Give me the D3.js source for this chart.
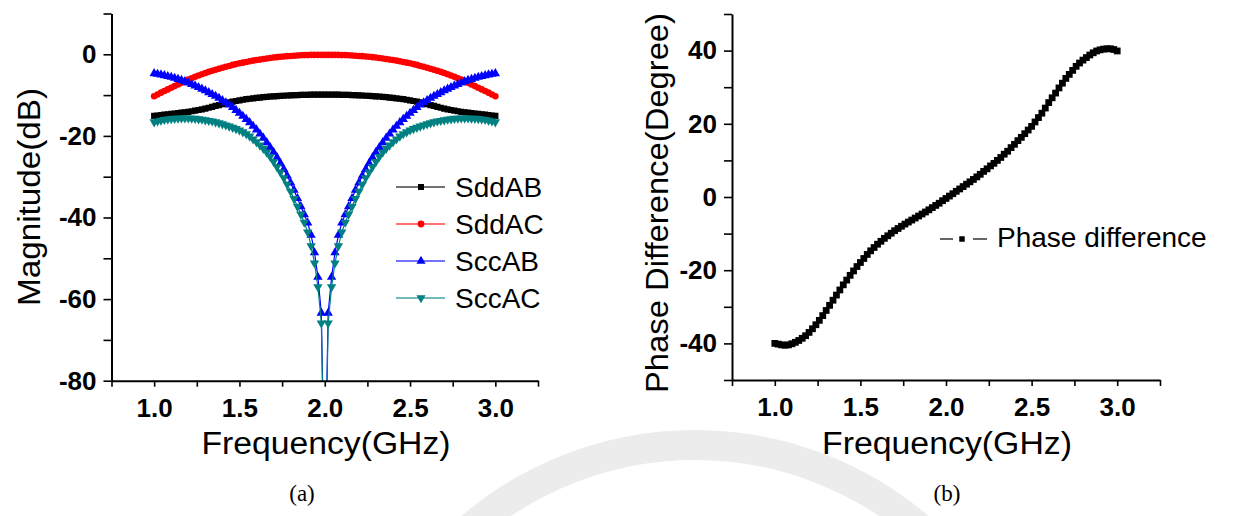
<!DOCTYPE html>
<html>
<head>
<meta charset="utf-8">
<script src="https://cdn.jsdelivr.net/npm/d3@7"></script>
<style>
  body { margin: 0; background: #fff; }
  svg { display: block; font-family: "Liberation Sans", Arial, sans-serif; }
</style>
</head>
<body>
<svg id="chart" width="1239" height="516"></svg>
<script>
// frequency sweep (GHz)
var freq = [1.00,1.02,1.04,1.06,1.08,1.10,1.12,1.14,1.16,1.18,1.20,1.22,1.24,1.26,1.28,1.30,1.32,1.34,1.36,1.38,
  1.40,1.42,1.44,1.46,1.48,1.50,1.52,1.54,1.56,1.58,1.60,1.62,1.64,1.66,1.68,1.70,1.72,1.74,1.76,1.78,
  1.80,1.82,1.84,1.86,1.88,1.90,1.92,1.94,1.96,1.98,2.00,2.02,2.04,2.06,2.08,2.10,2.12,2.14,2.16,2.18,
  2.20,2.22,2.24,2.26,2.28,2.30,2.32,2.34,2.36,2.38,2.40,2.42,2.44,2.46,2.48,2.50,2.52,2.54,2.56,2.58,
  2.60,2.62,2.64,2.66,2.68,2.70,2.72,2.74,2.76,2.78,2.80,2.82,2.84,2.86,2.88,2.90,2.92,2.94,2.96,2.98,3.00];

var sddAB = [-15.1,-15.0,-14.9,-14.8,-14.7,-14.6,-14.5,-14.4,-14.3,-14.2,-14.1,-13.95,-13.8,-13.65,-13.5,-13.3,-13.1,-12.9,-12.65,-12.45,
  -12.2,-12.0,-11.8,-11.6,-11.45,-11.3,-11.15,-11.0,-10.9,-10.8,-10.7,-10.6,-10.5,-10.45,-10.35,-10.3,-10.25,-10.2,-10.15,-10.1,
  -10.05,-10.0,-10.0,-9.95,-9.95,-9.95,-9.9,-9.9,-9.9,-9.9,-9.9,-9.9,-9.9,-9.9,-9.9,-9.95,-9.95,-9.95,-10.0,-10.0,
  -10.05,-10.1,-10.15,-10.2,-10.25,-10.3,-10.35,-10.45,-10.5,-10.6,-10.7,-10.8,-10.9,-11.0,-11.15,-11.3,-11.45,-11.6,-11.8,-12.0,
  -12.2,-12.45,-12.65,-12.9,-13.1,-13.3,-13.5,-13.65,-13.8,-13.95,-14.1,-14.2,-14.3,-14.4,-14.5,-14.6,-14.7,-14.8,-14.9,-15.0,-15.1];

var sddAC = [-10.3,-9.85,-9.4,-9.0,-8.6,-8.2,-7.8,-7.4,-7.0,-6.6,-6.2,-5.85,-5.5,-5.2,-4.9,-4.6,-4.3,-4.05,-3.8,-3.55,
  -3.3,-3.05,-2.85,-2.6,-2.4,-2.2,-2.05,-1.9,-1.7,-1.55,-1.4,-1.3,-1.15,-1.05,-0.9,-0.8,-0.7,-0.6,-0.55,-0.45,
  -0.4,-0.35,-0.3,-0.25,-0.2,-0.2,-0.15,-0.15,-0.15,-0.15,-0.15,-0.15,-0.15,-0.15,-0.15,-0.2,-0.2,-0.25,-0.3,-0.35,
  -0.4,-0.45,-0.55,-0.6,-0.7,-0.8,-0.9,-1.05,-1.15,-1.3,-1.4,-1.55,-1.7,-1.9,-2.05,-2.2,-2.4,-2.6,-2.85,-3.05,
  -3.3,-3.55,-3.8,-4.05,-4.3,-4.6,-4.9,-5.2,-5.5,-5.85,-6.2,-6.6,-7.0,-7.4,-7.8,-8.2,-8.6,-9.0,-9.4,-9.85,-10.3];

var sccAB = [-4.7,-4.85,-5.0,-5.2,-5.4,-5.6,-5.85,-6.1,-6.35,-6.65,-7.0,-7.35,-7.7,-8.1,-8.5,-8.9,-9.35,-9.8,-10.25,-10.75,
  -11.3,-11.85,-12.4,-13.0,-13.7,-14.4,-15.15,-15.9,-16.7,-17.6,-18.5,-19.5,-20.5,-21.6,-22.8,-24.0,-25.3,-26.7,-28.2,-29.8,
  -31.5,-33.3,-35.3,-37.3,-39.3,-41.3,-44.3,-48.6,-54.6,-63.4,-110,-63.4,-54.6,-48.6,-44.3,-41.3,-39.3,-37.3,-35.3,-33.3,
  -31.5,-29.8,-28.2,-26.7,-25.3,-24.0,-22.8,-21.6,-20.5,-19.5,-18.5,-17.6,-16.7,-15.9,-15.15,-14.4,-13.7,-13.0,-12.4,-11.85,
  -11.3,-10.75,-10.25,-9.8,-9.35,-8.9,-8.5,-8.1,-7.7,-7.35,-7.0,-6.65,-6.35,-6.1,-5.85,-5.6,-5.4,-5.2,-5.0,-4.85,-4.7];

var sccAC = [-16.6,-16.4,-16.2,-16.0,-15.9,-15.8,-15.75,-15.7,-15.65,-15.65,-15.65,-15.7,-15.75,-15.85,-15.95,-16.1,-16.25,-16.4,-16.6,-16.85,
  -17.1,-17.35,-17.65,-17.95,-18.25,-18.6,-19.05,-19.5,-20.1,-20.8,-21.5,-22.3,-23.1,-24.0,-25.1,-26.3,-27.6,-28.9,-30.3,-31.9,
  -33.6,-35.4,-37.3,-39.2,-41.2,-43.6,-47.0,-51.2,-57.0,-65.9,-112,-65.9,-57.0,-51.2,-47.0,-43.6,-41.2,-39.2,-37.3,-35.4,
  -33.6,-31.9,-30.3,-28.9,-27.6,-26.3,-25.1,-24.0,-23.1,-22.3,-21.5,-20.8,-20.1,-19.5,-19.05,-18.6,-18.25,-17.95,-17.65,-17.35,
  -17.1,-16.85,-16.6,-16.4,-16.25,-16.1,-15.95,-15.85,-15.75,-15.7,-15.65,-15.65,-15.65,-15.7,-15.75,-15.8,-15.9,-16.0,-16.2,-16.4,-16.6];

var phaseDiff = [-40.0,-40.2,-40.4,-40.5,-40.4,-40.1,-39.7,-39.2,-38.6,-37.9,-37.0,-36.0,-34.9,-33.7,-32.4,-31.0,-29.6,-28.2,-26.8,-25.4,
  -24.0,-22.7,-21.4,-20.2,-19.0,-17.9,-16.8,-15.7,-14.7,-13.8,-12.9,-12.1,-11.3,-10.6,-9.9,-9.2,-8.6,-8.0,-7.4,-6.85,
  -6.3,-5.75,-5.2,-4.65,-4.1,-3.5,-2.9,-2.3,-1.7,-1.0,-0.4,0.25,0.9,1.55,2.2,2.85,3.5,4.15,4.8,5.5,
  6.2,7.0,7.7,8.5,9.2,10.0,10.8,11.7,12.5,13.5,14.4,15.4,16.3,17.3,18.3,19.3,20.5,21.7,22.9,24.3,
  25.8,27.1,28.4,29.8,31.1,32.4,33.5,34.6,35.7,36.6,37.4,38.1,38.8,39.4,39.9,40.2,40.4,40.5,40.5,40.3,39.9];

var seriesNames = ["SddAB", "SddAC", "SccAB", "SccAC"];
var seriesColors = ["#000000", "#ff0000", "#0000ff", "#008080"];
var seriesValues = [sddAB, sddAC, sccAB, sccAC];

var freqTicks = [0.75, 1.0, 1.25, 1.5, 1.75, 2.0, 2.25, 2.5, 2.75, 3.0, 3.25];
var freqLabels = [1.0, 1.5, 2.0, 2.5, 3.0];
var magTicks = [-80, -70, -60, -50, -40, -30, -20, -10, 0, 10];
var magLabels = [-80, -60, -40, -20, 0];
var phaseTicks = [-50, -40, -30, -20, -10, 0, 10, 20, 30, 40, 50];
var phaseLabels = [-40, -20, 0, 20, 40];

var FONT = '"Liberation Sans", Arial, sans-serif';
var svg = d3.select("#chart");

// faint watermark ring in the background
svg.append("circle")
    .attr("cx", 695).attr("cy", 790).attr("r", 345)
    .attr("fill", "none").attr("stroke", "#ececec").attr("stroke-width", 30);

var symbols = [d3.symbolSquare, d3.symbolCircle, d3.symbolTriangle, d3.symbolTriangle];
var symbolRot = [0, 0, 0, 180];

function drawAxes(g, x, y, ticksX, labelsX, ticksY, labelsY) {
  var xAxis = d3.axisBottom(x).tickValues(ticksX).tickSize(6).tickSizeOuter(0).tickPadding(12)
      .tickFormat(function(d) { return labelsX.indexOf(d) >= 0 ? d.toFixed(1) : ""; });
  var yAxis = d3.axisLeft(y).tickValues(ticksY).tickSize(8).tickSizeOuter(0).tickPadding(7)
      .tickFormat(function(d) { return labelsY.indexOf(d) >= 0 ? String(d) : ""; });

  var gx = g.append("g").attr("transform", "translate(0," + y.range()[0] + ")").call(xAxis);
  var gy = g.append("g").attr("transform", "translate(" + x.range()[0] + ",0)").call(yAxis);
  [gx, gy].forEach(function(a) {
    a.attr("font-family", FONT).attr("font-size", 26).attr("font-weight", "bold");
    a.select(".domain").attr("stroke", "#000").attr("stroke-width", 2);
    a.selectAll(".tick line").attr("stroke", "#000").attr("stroke-width", 1.6);
    a.selectAll(".tick text").attr("fill", "#000")
        .attr("font-family", FONT).attr("font-size", 26).attr("font-weight", "bold");
  });
}

// ---------- panel (a) ----------
var xa = d3.scaleLinear().domain([0.75, 3.25]).range([111.5, 538]);
var ya = d3.scaleLinear().domain([-80, 10]).range([380.7, 13.5]);
var ga = svg.append("g");

ga.append("clipPath").attr("id", "clipA").append("rect")
    .attr("x", xa.range()[0]).attr("y", ya.range()[1])
    .attr("width", xa.range()[1] - xa.range()[0]).attr("height", ya.range()[0] - ya.range()[1]);

var plotA = ga.append("g").attr("clip-path", "url(#clipA)");

seriesValues.forEach(function(vals, si) {
  var pts = freq.map(function(f, i) { return [f, vals[i]]; });
  var line = d3.line().x(function(d) { return xa(d[0]); }).y(function(d) { return ya(d[1]); });
  plotA.append("path").datum(pts).attr("d", line)
      .attr("fill", "none").attr("stroke", seriesColors[si]).attr("stroke-width", 1.2);
  var sym = d3.symbol().type(symbols[si]).size(si === 1 ? 34 : 38);
  plotA.append("g").selectAll("path").data(pts).enter().append("path")
      .attr("d", sym)
      .attr("transform", function(d) {
        return "translate(" + xa(d[0]) + "," + ya(d[1]) + ") rotate(" + symbolRot[si] + ")";
      })
      .attr("fill", seriesColors[si]);
});

drawAxes(ga, xa, ya, freqTicks, freqLabels, magTicks, magLabels);

// legend (a)
var legA = ga.append("g");
seriesNames.forEach(function(name, i) {
  var ly = 187 + i * 37;
  legA.append("line").attr("x1", 396).attr("x2", 445).attr("y1", ly).attr("y2", ly)
      .attr("stroke", seriesColors[i]).attr("stroke-opacity", 0.55).attr("stroke-width", 2.2);
  legA.append("path").attr("d", d3.symbol().type(symbols[i]).size(36))
      .attr("transform", "translate(421," + ly + ") rotate(" + symbolRot[i] + ")")
      .attr("fill", seriesColors[i]);
  legA.append("text").attr("x", 455).attr("y", ly + 10)
      .style("font-size", "28px").attr("fill", "#000").text(name);
});

ga.append("text").attr("x", 326).attr("y", 454).attr("text-anchor", "middle")
    .style("font-size", "31px").attr("textLength", 249).attr("lengthAdjust", "spacingAndGlyphs")
    .text("Frequency(GHz)");
ga.append("text").attr("transform", "translate(40,197) rotate(-90)").attr("text-anchor", "middle")
    .style("font-size", "32px").attr("textLength", 218).attr("lengthAdjust", "spacingAndGlyphs")
    .text("Magnitude(dB)");
ga.append("text").attr("x", 302).attr("y", 501).attr("text-anchor", "middle")
    .style("font-family", '"Liberation Serif", "DejaVu Serif", serif').style("font-size", "23px")
    .text("(a)");

// ---------- panel (b) ----------
var xb = d3.scaleLinear().domain([0.75, 3.25]).range([732, 1160]);
var yb = d3.scaleLinear().domain([-50, 50]).range([380, 14]);
var gb = svg.append("g");

var ptsB = freq.map(function(f, i) { return [f, phaseDiff[i]]; });
gb.append("path").datum(ptsB)
    .attr("d", d3.line().x(function(d) { return xb(d[0]); }).y(function(d) { return yb(d[1]); }))
    .attr("fill", "none").attr("stroke", "#000").attr("stroke-width", 1.5);
gb.append("g").selectAll("path").data(ptsB).enter().append("path")
    .attr("d", d3.symbol().type(d3.symbolSquare).size(46))
    .attr("transform", function(d) { return "translate(" + xb(d[0]) + "," + yb(d[1]) + ")"; })
    .attr("fill", "#000");

drawAxes(gb, xb, yb, freqTicks, freqLabels, phaseTicks, phaseLabels);

// legend (b)
var lyB = 239;
gb.append("line").attr("x1", 940).attr("x2", 953).attr("y1", lyB).attr("y2", lyB).attr("stroke", "#000").attr("stroke-width", 1.2);
gb.append("line").attr("x1", 973).attr("x2", 987).attr("y1", lyB).attr("y2", lyB).attr("stroke", "#000").attr("stroke-width", 1.2);
gb.append("path").attr("d", d3.symbol().type(d3.symbolSquare).size(30))
    .attr("transform", "translate(962," + lyB + ")").attr("fill", "#000");
gb.append("text").attr("x", 997).attr("y", lyB + 8)
    .style("font-size", "28px").attr("fill", "#000").text("Phase difference");

gb.append("text").attr("x", 947).attr("y", 454).attr("text-anchor", "middle")
    .style("font-size", "31px").attr("textLength", 250).attr("lengthAdjust", "spacingAndGlyphs")
    .text("Frequency(GHz)");
gb.append("text").attr("transform", "translate(668,203) rotate(-90)").attr("text-anchor", "middle")
    .style("font-size", "32px").attr("textLength", 380).attr("lengthAdjust", "spacingAndGlyphs")
    .text("Phase Difference(Degree)");
gb.append("text").attr("x", 947).attr("y", 501).attr("text-anchor", "middle")
    .style("font-family", '"Liberation Serif", "DejaVu Serif", serif').style("font-size", "23px")
    .text("(b)");
</script>
</body>
</html>
